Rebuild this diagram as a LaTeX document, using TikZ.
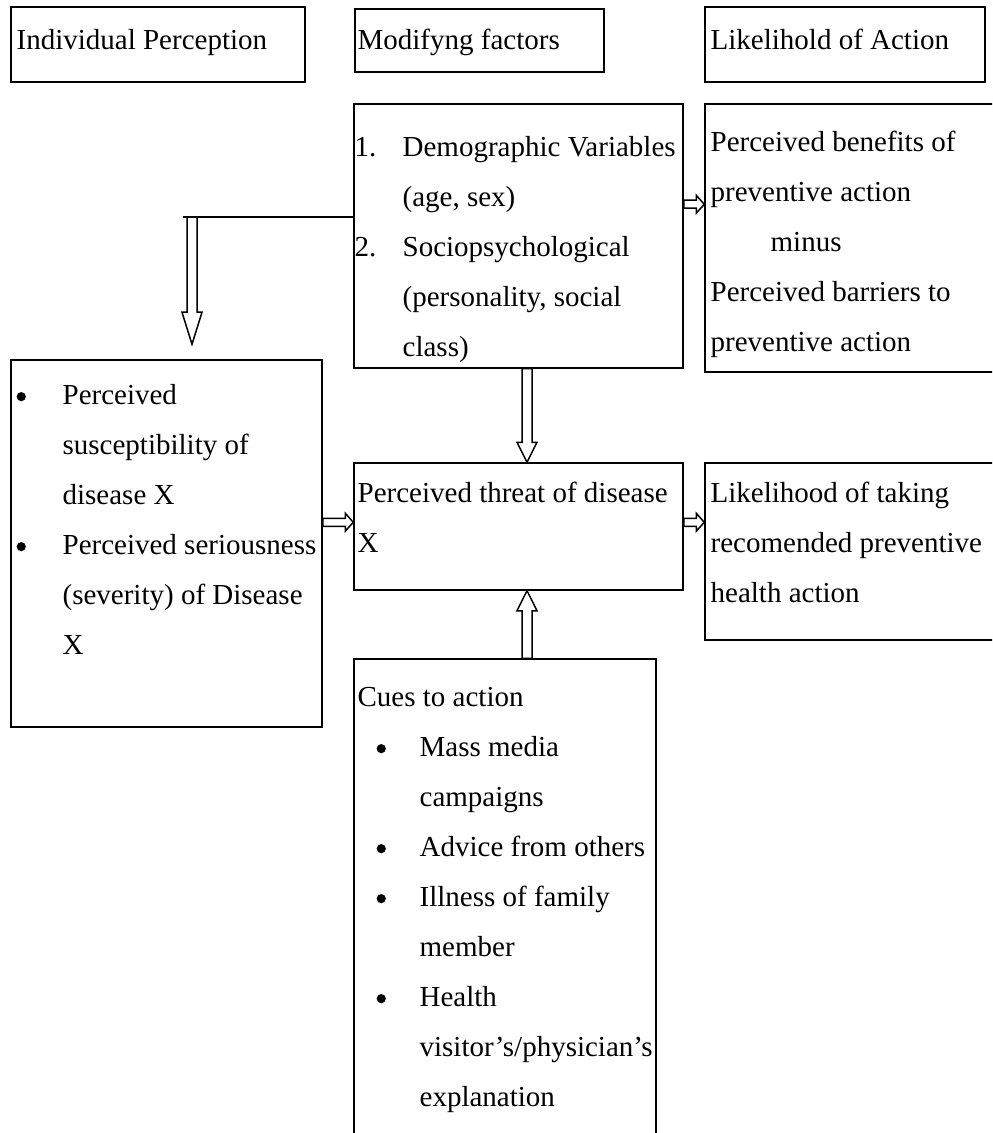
\documentclass[tikz,border=0pt]{standalone}
\usepackage{fontspec}
\setmainfont{Liberation Serif}
\usetikzlibrary{calc,fit}

\newcommand{\bdot}{\tikz[baseline=-4pt]\fill (0,0) circle (2.3pt);}

\tikzset{
  box/.style={draw, line width=0.75pt, inner sep=0pt},
  txt/.style={anchor=north west, inner sep=0pt, align=left,
    font=\fontsize{14.5}{25}\selectfont},
  % hollow block arrow: shaft half width, head half width, head length
  hollow/.style n args={3}{line width=0.75pt, line join=miter, to path={
      ($(\tikztostart)!#1!90:(\tikztotarget)$)
      -- ($(\tikztotarget)!#3!(\tikztostart)!#1!90:(\tikztotarget)$)
      -- ($(\tikztotarget)!#3!(\tikztostart)!#2!90:(\tikztotarget)$)
      -- (\tikztotarget)
      -- ($(\tikztotarget)!#3!(\tikztostart)!#2!-90:(\tikztotarget)$)
      -- ($(\tikztotarget)!#3!(\tikztostart)!#1!-90:(\tikztotarget)$)
      -- ($(\tikztostart)!#1!-90:(\tikztotarget)$)
      -- cycle}},
  bigarrow/.style={hollow={2.5pt}{5pt}{10pt}},
  smallarrow/.style={hollow={2pt}{4.5pt}{4pt}}
}

\begin{document}
\begin{tikzpicture}[x=0.5pt,y=-0.5pt]
  \path[use as bounding box] (0,0) rectangle (992,1133);
  \clip (0,0) rectangle (992,1133);

  % column headings
  \node[box, fit={(11,7) (305,82)}] (hindiv) {};
  \node[box, fit={(355,9) (604,72)}] (hmod) {};
  \node[box, fit={(705,7) (985,82)}] (hlike) {};
  \node[txt] (hindiv-t) at ([shift={(6,8)}]hindiv.north west) {\strut Individual Perception};
  \node[txt] (hmod-t) at ([shift={(3,6)}]hmod.north west) {\strut Modifyng factors};
  \node[txt] (hlike-t) at ([shift={(6,8)}]hlike.north west) {\strut Likelihold of Action};

  % boxes
  \node[box, fit={(354,104) (683,368)}] (modif) {};
  \node[box, fit={(705,104) (1000,372)}] (benef) {};
  \node[box, fit={(11,360) (322,727)}] (indiv) {};
  \node[box, fit={(354,463) (683,590)}] (threat) {};
  \node[box, fit={(705,463) (1000,640)}] (taking) {};
  \node[box, fit={(354,659) (656,1160)}] (cues) {};

  \node[txt] (modif-t) at ([shift={(1,18)}]modif.north west)
    {\strut\makebox[24pt][l]{1.}Demographic Variables\\
     \hspace*{24pt}(age, sex)\\
     \makebox[24pt][l]{2.}Sociopsychological\\
     \hspace*{24pt}(personality, social\\
     \hspace*{24pt}class)};
  \node[txt] (benef-t) at ([shift={(6,13)}]benef.north west)
    {\strut Perceived benefits of\\
     preventive action\\
     \hspace*{30pt}minus\\
     Perceived barriers to\\
     preventive action};
  \node[txt] (indiv-t) at ([shift={(6,10)}]indiv.north west)
    {\strut\makebox[23pt][l]{\bdot}Perceived\\
     \hspace*{23pt}susceptibility of\\
     \hspace*{23pt}disease X\\
     \makebox[23pt][l]{\bdot}Perceived seriousness\\
     \hspace*{23pt}(severity) of Disease\\
     \hspace*{23pt}X};
  \node[txt] (threat-t) at ([shift={(4,5)}]threat.north west)
    {\strut Perceived threat of disease\\X};
  \node[txt] (taking-t) at ([shift={(6,5)}]taking.north west)
    {\strut Likelihood of taking\\recomended preventive\\health action};
  \node[txt] (cues-t) at ([shift={(4,13)}]cues.north west)
    {\strut Cues to action\\
     \hspace*{9.5pt}\makebox[21.5pt][l]{\bdot}Mass media\\
     \hspace*{31pt}campaigns\\
     \hspace*{9.5pt}\makebox[21.5pt][l]{\bdot}Advice from others\\
     \hspace*{9.5pt}\makebox[21.5pt][l]{\bdot}Illness of family\\
     \hspace*{31pt}member\\
     \hspace*{9.5pt}\makebox[21.5pt][l]{\bdot}Health\\
     \hspace*{31pt}visitor’s/physician’s\\
     \hspace*{31pt}explanation};

  % connectors
  \coordinate (bend) at (192,217);
  \coordinate (tip1) at ($(bend |- indiv.north)+(0,-15)$);
  \draw[line width=0.8pt] (bend -| modif.west) -- ([xshift=-4.5pt]bend);
  \draw[hollow={2.5pt}{5pt}{16pt}] (bend) to (tip1);

  \coordinate (a1) at ([yshift=-50.5pt]modif.north east);
  \coordinate (b1) at (a1 -| benef.west);
  \draw[smallarrow] (a1) to (b1);

  \coordinate (b2) at ([yshift=-30pt]threat.north west);
  \coordinate (a2) at (b2 -| indiv.east);
  \draw[smallarrow] (a2) to (b2);

  \coordinate (a3) at ([yshift=-30pt]threat.north east);
  \coordinate (b3) at (a3 -| taking.west);
  \draw[smallarrow] (a3) to (b3);

  \coordinate (a4) at ([xshift=4.25pt]modif.south);
  \coordinate (b4) at (a4 |- threat.north);
  \draw[bigarrow] (a4) to (b4);

  \coordinate (b5) at ([xshift=4.25pt]threat.south);
  \coordinate (a5) at (b5 |- cues.north);
  \draw[bigarrow] (a5) to (b5);
\end{tikzpicture}
\end{document}
